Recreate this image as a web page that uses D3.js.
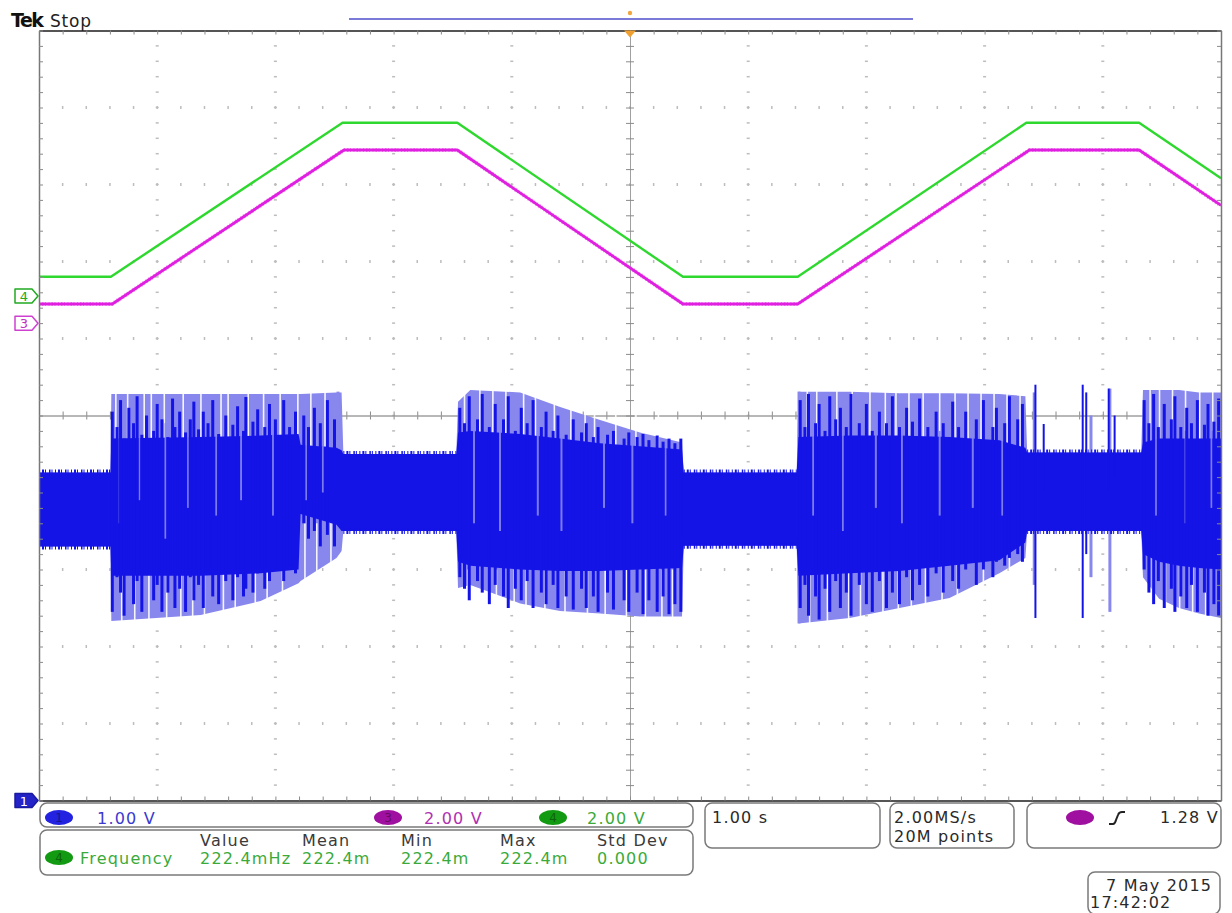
<!DOCTYPE html>
<html>
<head>
<meta charset="utf-8">
<script src="https://cdn.jsdelivr.net/npm/d3@7"></script>
<style>
  body { margin: 0; background: #fff; }
  svg { display: block; }
  text { font-family: "DejaVu Sans", sans-serif; }
</style>
</head>
<body>
<svg id="scope" width="1232" height="913"></svg>
<script>
// ---- acquisition settings ----
const timeRange = [0, 10];                 // 1.00 s/div, 10 divisions
const channelIds = ["1", "3", "4"];
const voltsPerDiv = [1, 2, 2];
const channelPos = [-5, 1.198, 1.552];     // ground position, divisions from centre

// ---- CH4 (green) and CH3 (magenta): trapezoidal ramps ----
const ch4Times = [0, 0.608, 2.568, 3.539, 5.448, 6.419, 8.353, 9.307, 10];
const ch4Volts = [0.5, 0.5, 4.5, 4.5, 0.5, 0.5, 4.5, 4.5, 3.06];
const ch3Times = [0, 0.620, 2.580, 3.539, 5.448, 6.419, 8.380, 9.307, 10];
const ch3Volts = [0.5, 0.5, 4.5, 4.5, 0.5, 0.5, 4.5, 4.5, 3.06];

// ---- CH1 (blue): envelope of the switching noise ----
const envT       = [0.000, 0.605, 0.612, 1.368, 1.875, 2.196, 2.213, 2.517, 2.560, 2.575, 3.530, 3.545, 3.649, 4.071, 4.409, 4.747, 5.084, 5.440, 5.455, 6.410, 6.425, 6.858, 7.280, 7.703, 8.125, 8.345, 8.360, 9.325, 9.340, 9.476, 9.645, 9.814, 10.00];
const envOuterHi = [4.26, 4.26, 5.28, 5.28, 5.28, 5.28, 5.28, 5.30, 5.30, 4.50, 4.50, 5.18, 5.33, 5.30, 5.11, 4.94, 4.78, 4.65, 4.26, 4.26, 5.31, 5.31, 5.29, 5.29, 5.28, 5.25, 4.52, 4.52, 5.33, 5.33, 5.33, 5.30, 5.30];
const envOuterLo = [3.30, 3.30, 2.33, 2.41, 2.59, 2.82, 2.85, 3.15, 3.24, 3.50, 3.50, 2.76, 2.80, 2.56, 2.46, 2.43, 2.39, 2.39, 3.31, 3.31, 2.30, 2.37, 2.50, 2.63, 2.95, 3.15, 3.50, 3.50, 2.90, 2.62, 2.50, 2.43, 2.37];
const envCoreHi  = [4.26, 4.26, 4.70, 4.72, 4.74, 4.76, 4.62, 4.58, 4.55, 4.50, 4.50, 4.78, 4.80, 4.76, 4.70, 4.64, 4.60, 4.56, 4.26, 4.26, 4.72, 4.74, 4.74, 4.72, 4.68, 4.58, 4.52, 4.52, 4.65, 4.70, 4.70, 4.70, 4.70];
const envCoreLo  = [3.30, 3.30, 2.92, 2.92, 2.95, 3.00, 3.72, 3.58, 3.50, 3.50, 3.50, 3.10, 3.05, 3.00, 2.98, 2.98, 3.00, 3.02, 3.31, 3.31, 2.92, 2.95, 2.98, 3.05, 3.12, 3.35, 3.50, 3.50, 3.20, 3.10, 3.05, 3.02, 3.00];
// flat stretches where only the idle noise band is present: [start s, end s]
const quietSpans = [[0, 0.605], [2.575, 3.530], [5.455, 6.410], [8.360, 9.325]];

// switching bursts: [time s, top V, bottom V]
const burstBars = [
  [0.62,5.05,2.45],[0.66,4.85,2.90],[0.69,5.20,2.70],[0.72,4.70,2.40],[0.76,5.10,3.00],[0.80,4.90,2.55],
  [0.83,5.25,2.85],[0.87,4.75,2.45],[0.91,5.00,2.95],[0.97,4.80,2.60],[1.00,5.15,2.80],[1.04,4.95,2.45],
  [1.09,4.72,2.70],[1.13,5.22,2.95],[1.15,4.85,2.50],[1.19,5.05,2.75],[1.24,4.78,2.45],[1.28,4.95,2.90],
  [1.31,5.18,2.60],[1.35,4.82,2.80],[1.39,5.05,2.50],[1.43,4.90,2.95],[1.47,5.20,2.65],[1.52,4.76,2.55],
  [1.58,5.00,2.85],[1.64,4.88,2.60],[1.68,5.12,2.90],[1.73,4.80,2.65],[1.75,5.24,2.75],[1.81,4.92,2.70],
  [1.85,5.08,2.95],[1.91,4.85,2.75],[1.95,5.15,2.85],[2.00,4.95,3.00],[2.07,5.20,2.85],[2.12,4.85,3.05],
  [2.17,5.05,2.95],[2.24,5.00,3.60],[2.28,4.85,3.40],[2.33,5.10,3.50],[2.38,4.90,3.30],[2.44,5.20,3.45],
  [2.50,4.95,3.30],
  [3.56,5.10,2.90],[3.60,4.90,2.75],[3.64,5.25,2.60],[3.71,4.95,2.85],[3.75,5.28,2.70],[3.81,4.85,2.55],
  [3.86,5.15,2.80],[3.93,4.95,2.65],[3.97,5.25,2.50],[4.03,4.80,2.75],[4.08,5.10,2.60],[4.13,4.90,2.85],
  [4.18,5.20,2.50],[4.25,4.85,2.70],[4.29,5.05,2.55],[4.35,4.80,2.80],[4.39,5.00,2.50],[4.46,4.75,2.65],
  [4.52,4.95,2.48],[4.59,4.78,2.75],[4.63,4.90,2.50],[4.69,4.72,2.65],[4.73,4.85,2.45],[4.81,4.75,2.70],
  [4.86,4.80,2.48],[4.95,4.70,2.60],[4.99,4.78,2.45],[5.06,4.72,2.70],[5.11,4.76,2.42],[5.16,4.68,2.60],
  [5.23,4.74,2.45],[5.28,4.66,2.65],[5.33,4.70,2.42],[5.38,4.64,2.55],[5.43,4.70,2.45],
  [6.44,5.20,2.50],[6.48,4.85,2.80],[6.51,5.28,2.40],[6.57,4.90,2.65],[6.60,5.15,2.35],[6.65,4.80,2.75],
  [6.69,5.25,2.45],[6.74,4.95,2.85],[6.78,5.10,2.50],[6.83,4.85,2.70],[6.87,5.28,2.40],[6.94,4.90,2.80],
  [7.00,5.15,2.55],[7.05,4.80,2.45],[7.11,5.05,2.85],[7.17,4.90,2.50],[7.22,5.25,2.70],[7.28,4.85,2.55],
  [7.34,5.10,2.90],[7.39,4.92,2.60],[7.45,5.22,2.80],[7.52,4.85,2.65],[7.59,5.05,2.95],[7.65,4.90,2.70],
  [7.73,5.18,2.85],[7.78,4.85,2.75],[7.84,5.05,3.00],[7.93,4.95,2.80],[7.99,5.20,3.00],[8.07,4.85,2.90],
  [8.10,5.10,3.10],[8.17,4.90,3.05],[8.21,5.25,3.15],[8.28,4.95,3.20],[8.32,5.15,3.10],
  [9.35,5.20,3.00],[9.39,4.90,2.70],[9.43,5.28,2.55],[9.47,4.85,2.85],[9.52,5.15,2.50],[9.58,4.95,2.75],
  [9.61,5.25,2.45],[9.66,4.85,2.65],[9.71,5.10,2.50],[9.75,4.90,2.80],[9.80,5.20,2.45],[9.86,4.88,2.70],
  [9.89,5.15,2.40],[9.94,4.92,2.55],[9.98,5.22,2.40]
];
// isolated glitches on the plateaus
const glitches = [
  [8.43,5.40,2.37],[8.50,4.89,4.00],[8.83,5.40,2.37],[8.86,5.30,3.20],[9.05,5.35,4.00],[9.10,5.00,4.20]
];
const lightSpikes = [
  [2.53,5.31,3.24],[6.43,5.31,2.30],[8.42,5.30,2.80],[8.90,5.00,2.90],[9.06,5.35,2.45]
];
// paler streaks through the dense part of the bursts
const lightStreaks = [
  [0.68,4.85,3.60],[0.85,4.80,3.90],[1.07,4.90,3.40],[1.26,4.80,3.80],[1.50,4.85,3.70],[1.71,4.80,3.90],
  [1.98,4.85,3.70],[2.26,4.70,3.90],[2.40,4.60,4.00],
  [3.68,4.85,3.60],[3.90,4.85,3.50],[4.22,4.80,3.70],[4.42,4.75,3.50],[4.78,4.65,3.80],[5.02,4.62,3.60],
  [5.30,4.58,3.70],
  [6.55,4.85,3.70],[6.80,4.85,3.50],[7.08,4.80,3.80],[7.30,4.80,3.60],[7.62,4.80,3.70],[7.90,4.75,3.80],
  [8.15,4.70,3.70],
  [9.45,4.80,3.70],[9.70,4.80,3.60],[9.92,4.80,3.80]
];
// sparse moments inside the persistence band
const gaps = [
  [0.65,5.4,3.9],[0.70,3.4,2.2],[0.75,5.4,4.2],[0.81,3.2,2.2],[0.89,5.4,4.0],[0.93,3.3,2.2],[0.95,5.4,4.3],
  [1.06,5.4,4.1],[1.08,3.2,2.2],[1.20,3.1,2.2],[1.22,5.4,4.0],[1.30,3.0,2.2],[1.37,5.4,4.3],[1.40,3.1,2.2],
  [1.54,5.4,4.2],[1.56,3.0,2.2],[1.60,5.4,4.3],[1.66,3.0,2.2],[1.77,5.4,4.2],[1.83,3.0,2.2],[1.90,5.4,4.2],
  [1.93,3.0,2.3],[2.04,5.4,4.4],[2.06,3.2,2.4],[2.19,5.4,4.4],[2.25,3.6,2.6],[2.30,5.4,4.6],[2.35,3.6,2.7],
  [2.42,5.4,4.6],[2.47,3.6,2.9],
  [3.60,5.4,4.5],[3.63,3.0,2.4],[3.73,5.4,4.4],[3.75,3.0,2.3],[3.84,5.4,4.4],[3.87,3.0,2.3],[3.95,5.4,4.3],
  [4.02,3.0,2.3],[4.10,5.4,4.3],[4.12,3.0,2.3],[4.20,5.4,4.3],[4.28,3.0,2.3],[4.36,5.4,4.4],[4.45,3.0,2.3],
  [4.50,5.4,4.4],[4.62,5.4,4.4],[4.64,3.0,2.3],[4.70,5.4,4.4],[4.79,3.0,2.3],[4.88,5.4,4.4],[4.97,3.0,2.3],
  [5.05,5.4,4.4],[5.13,3.0,2.3],[5.24,5.4,4.4],[5.27,3.0,2.3],[5.36,3.0,2.3],
  [6.50,5.4,4.3],[6.52,3.0,2.2],[6.58,5.4,4.3],[6.67,3.0,2.2],[6.75,5.4,4.3],[6.85,3.0,2.2],[6.88,5.4,4.3],
  [6.95,3.0,2.2],[7.03,5.4,4.3],[7.14,3.0,2.2],[7.16,5.4,4.3],[7.25,5.4,4.3],[7.27,3.0,2.3],[7.36,5.4,4.3],
  [7.38,3.1,2.3],[7.48,5.4,4.3],[7.50,3.1,2.4],[7.62,5.4,4.3],[7.64,3.2,2.5],[7.75,5.4,4.3],[7.77,3.2,2.5],
  [7.86,5.4,4.3],[7.97,5.4,4.3],[7.99,3.3,2.6],[8.08,5.4,4.3],[8.19,5.4,4.3],[8.21,3.4,2.8],[8.30,5.4,4.3],
  [9.40,5.4,4.4],[9.42,3.2,2.4],[9.48,5.4,4.4],[9.53,3.2,2.3],[9.59,5.4,4.4],[9.65,3.2,2.3],[9.70,5.4,4.4],
  [9.76,3.2,2.3],[9.82,5.4,4.4],[9.87,3.2,2.3],[9.93,5.4,4.4]
];

// ---- readouts ----
const scaleLabels = ["1.00 V", "2.00 V", "2.00 V"];
const measHeaders = ["Value", "Mean", "Min", "Max", "Std Dev"];
const measValues = ["222.4mHz", "222.4m", "222.4m", "222.4m", "0.000"];
const measName = "Frequency";
const timebaseLabel = "1.00 s";
const acqLabels = ["2.00MS/s", "20M points"];
const triggerLabel = "1.28 V";
const dateLabels = ["7 May 2015", "17:42:02"];

// ---- layout ----
const svg = d3.select("#scope");
const P = { l: 39, r: 1221, t: 30.5, b: 800.5 };
const HDIV = 10, VDIV = 10;
const cx = (P.l + P.r) / 2, cy = (P.t + P.b) / 2;
const x = d3.scaleLinear().domain(timeRange).range([P.l, P.r]);
function yScale(ch) {
  const i = channelIds.indexOf(ch);
  const pos = channelPos[i], vd = voltsPerDiv[i];
  return d3.scaleLinear().domain([(-VDIV / 2 - pos) * vd, (VDIV / 2 - pos) * vd]).range([P.b, P.t]);
}
const y1 = yScale("1"), y3 = yScale("3"), y4 = yScale("4");
const COL = { blue: "#1414e6", blueLight: "#8787ee", magenta: "#e020e0", green: "#2fd82f" };

// ---- graticule ----
const gx = d3.scaleLinear().domain([0, HDIV]).range([P.l, P.r]);
const gy = d3.scaleLinear().domain([0, VDIV]).range([P.t, P.b]);
const minorX = d3.range(0, HDIV * 5 + 1).map(i => i / 5);
const minorY = d3.range(0, VDIV * 5 + 1).map(i => i / 5);
const grid = svg.append("g");
const majorX = d3.range(1, HDIV).filter(k => k !== HDIV / 2);
const majorY = d3.range(1, VDIV).filter(k => k !== VDIV / 2);
majorX.forEach(k => {
  grid.selectAll(null).data(minorY.slice(1, -1)).enter().append("rect")
    .attr("x", gx(k) - 1.5).attr("y", d => gy(d) - 0.75).attr("width", 3).attr("height", 1.5)
    .attr("fill", "#bdbdbd");
});
majorY.forEach(k => {
  grid.selectAll(null).data(minorX.slice(1, -1)).enter().append("rect")
    .attr("x", d => gx(d) - 0.75).attr("y", gy(k) - 1.5).attr("width", 1.5).attr("height", 3)
    .attr("fill", "#bdbdbd");
});
function styleAxis(g, col, w) {
  g.selectAll("path").attr("stroke", col).attr("stroke-width", w);
  g.selectAll("line").attr("stroke", "#8a8a8a").attr("stroke-width", 1);
  g.selectAll("text").remove();
}
// centre cross-hair
[d3.axisBottom, d3.axisTop].forEach(ax => {
  svg.append("g").attr("transform", `translate(0,${cy})`)
    .call(ax(gx).tickValues(minorX).tickSize(4).tickSizeOuter(0).tickFormat(""))
    .call(g => styleAxis(g, "#a0a0a0", 1));
});
[d3.axisLeft, d3.axisRight].forEach(ax => {
  svg.append("g").attr("transform", `translate(${cx},0)`)
    .call(ax(gy).tickValues(minorY).tickSize(4).tickSizeOuter(0).tickFormat(""))
    .call(g => styleAxis(g, "#a0a0a0", 1));
});

// ---- CH1 trace ----
svg.append("clipPath").attr("id", "plotClip").append("rect")
  .attr("x", P.l).attr("y", P.t).attr("width", P.r - P.l).attr("height", P.b - P.t);
const ch1 = svg.append("g").attr("clip-path", "url(#plotClip)");
const env = envT.map((t, i) => ({ t, oh: envOuterHi[i], ol: envOuterLo[i], ch: envCoreHi[i], cl: envCoreLo[i] }));
const vbars = (g, data, col, w, op) => g.selectAll(null).data(data).enter().append("line")
  .attr("x1", d => x(d[0])).attr("x2", d => x(d[0])).attr("y1", d => y1(d[1])).attr("y2", d => y1(d[2]))
  .attr("stroke", col).attr("stroke-width", w).attr("opacity", op);

ch1.append("path").datum(env)
  .attr("d", d3.area().x(d => x(d.t)).y0(d => y1(d.ol)).y1(d => y1(d.oh)))
  .attr("fill", COL.blueLight);
vbars(ch1, lightSpikes, COL.blueLight, 3, 1);
vbars(ch1, gaps, "#ffffff", 1.6, 0.92);
ch1.append("path").datum(env)
  .attr("d", d3.area().x(d => x(d.t)).y0(d => y1(d.cl)).y1(d => y1(d.ch)))
  .attr("fill", COL.blue);
// ragged edges of the idle noise band
quietSpans.forEach(([t0, t1]) => {
  const e = env.find(d => d.t >= t0);
  [e.ch, e.cl].forEach(v => {
    ch1.append("line").attr("x1", x(t0)).attr("x2", x(t1)).attr("y1", y1(v)).attr("y2", y1(v))
      .attr("stroke", COL.blue).attr("stroke-width", 6).attr("stroke-dasharray", "1 2 2 1 1 3 1.5 1 1 2.5");
  });
});
vbars(ch1, lightStreaks, COL.blueLight, 2, 0.9);
vbars(ch1, burstBars, COL.blue, 3, 1);
vbars(ch1, glitches, COL.blue, 2, 1);

// ---- CH3 / CH4 traces ----
const rampLine = ys => d3.line().x(d => x(d[0])).y(d => ys(d[1]));
const ch3Data = ch3Times.map((t, i) => [t, ch3Volts[i]]);
svg.append("path").datum(ch3Data)
  .attr("d", rampLine(y3)).attr("fill", "none").attr("stroke", COL.magenta)
  .attr("stroke-width", 2.8).attr("stroke-linejoin", "round");
svg.append("path").datum(ch3Data)
  .attr("d", rampLine(y3)).attr("fill", "none").attr("stroke", COL.magenta)
  .attr("stroke-width", 4.2).attr("stroke-dasharray", "1 2 1.5 1.5 1 2.5").attr("opacity", 0.45);
svg.append("path").datum(ch4Times.map((t, i) => [t, ch4Volts[i]]))
  .attr("d", rampLine(y4)).attr("fill", "none").attr("stroke", COL.green)
  .attr("stroke-width", 2.4).attr("stroke-linejoin", "round");

// ---- graticule frame ----
svg.append("g").attr("transform", `translate(0,${P.t})`)
  .call(d3.axisBottom(gx).tickValues(minorX).tickSize(4).tickSizeOuter(0).tickFormat(""))
  .call(g => styleAxis(g, "#555", 2));
svg.append("g").attr("transform", `translate(0,${P.b})`)
  .call(d3.axisTop(gx).tickValues(minorX).tickSize(4).tickSizeOuter(0).tickFormat(""))
  .call(g => styleAxis(g, "#555", 2));
svg.append("g").attr("transform", `translate(${P.l},0)`)
  .call(d3.axisRight(gy).tickValues(minorY).tickSize(4).tickSizeOuter(0).tickFormat(""))
  .call(g => styleAxis(g, "#777", 1.5));
svg.append("g").attr("transform", `translate(${P.r},0)`)
  .call(d3.axisLeft(gy).tickValues(minorY).tickSize(4).tickSizeOuter(0).tickFormat(""))
  .call(g => styleAxis(g, "#777", 1.5));

// ---- header ----
svg.append("text").attr("x", 11).attr("y", 27).attr("font-size", 19).attr("font-weight", "bold")
  .attr("font-family", "Liberation Serif, serif").attr("letter-spacing", -1.5).attr("fill", "#111").text("Tek");
svg.append("text").attr("x", 50).attr("y", 27).attr("font-size", 17).attr("letter-spacing", 0.8)
  .attr("fill", "#222").text("Stop");
svg.append("line").attr("x1", 349).attr("x2", 913).attr("y1", 19).attr("y2", 19)
  .attr("stroke", "#7a7ad8").attr("stroke-width", 2);
svg.append("circle").attr("cx", cx).attr("cy", 13).attr("r", 2.2).attr("fill", "#f2a640");
svg.append("path").attr("d", `M${cx - 6},${P.t} L${cx + 6},${P.t} L${cx},${P.t + 7} Z`).attr("fill", "#f0a030");

// ---- channel ground markers ----
function tag(yv, label, stroke, fill, txt) {
  const g = svg.append("g");
  g.append("path")
    .attr("d", `M15,${yv - 7} H32 L38,${yv} L32,${yv + 7} H15 Z`)
    .attr("fill", fill).attr("stroke", stroke).attr("stroke-width", 1.5).attr("stroke-linejoin", "round");
  g.append("text").attr("x", 24).attr("y", yv + 5).attr("text-anchor", "middle")
    .attr("font-size", 13).attr("fill", txt).text(label);
}
tag(y4(0), "4", "#22aa22", "#ffffff", "#22aa22");
tag(y3(0), "3", "#d040d0", "#ffffff", "#c030c0");
tag(Math.min(y1(0), P.b), "1", "#1a1aa0", "#2323c8", "#ffffff");

// ---- readout panels ----
const panel = (x0, y0, w, h) => svg.append("rect").attr("x", x0).attr("y", y0).attr("width", w).attr("height", h)
  .attr("rx", 7).attr("fill", "#fff").attr("stroke", "#7a7a7a").attr("stroke-width", 1.5);
panel(40, 803, 653, 24);
panel(40, 830, 653, 45);
panel(705, 803, 175, 45);
panel(890, 803, 124, 45);
panel(1027, 803, 194, 45);
panel(1088, 872, 132, 42);

const txt = (x0, y0, s, col) => svg.append("text").attr("x", x0).attr("y", y0).attr("font-size", 16)
  .attr("letter-spacing", 1.2).attr("fill", col).text(s);
const badge = (x0, y0, col, label) => {
  svg.append("ellipse").attr("cx", x0).attr("cy", y0).attr("rx", 14).attr("ry", 7.5).attr("fill", col);
  svg.append("text").attr("x", x0).attr("y", y0 + 4.5).attr("text-anchor", "middle").attr("font-size", 12)
    .attr("fill", d3.color(col).darker(1.2)).text(label);
};
badge(59, 817.5, "#2222e0", "1");
txt(97, 824, scaleLabels[0], "#3a3ad0");
badge(388, 817.5, "#a010a0", "3");
txt(424, 824, scaleLabels[1], "#b030b0");
badge(553, 817.5, "#139a13", "4");
txt(587, 824, scaleLabels[2], "#3aaa3a");

const colX = [200, 302, 401, 500, 597];
measHeaders.forEach((h, i) => txt(colX[i], 846, h, "#3a3a3a"));
badge(59, 857.5, "#139a13", "4");
txt(80, 864, measName, "#3aaa3a");
measValues.forEach((v, i) => txt(colX[i], 864, v, "#3aaa3a"));

txt(712, 823, timebaseLabel, "#2a2a2a");
txt(894, 823, acqLabels[0], "#2a2a2a");
txt(894, 842, acqLabels[1], "#2a2a2a");
svg.append("ellipse").attr("cx", 1080).attr("cy", 817.5).attr("rx", 14).attr("ry", 7.5).attr("fill", "#a010a0");
svg.append("path").attr("d", "M1109,824 L1113,824 Q1115,824 1116,820 L1118,815 Q1119,812 1122,812 L1125,812")
  .attr("fill", "none").attr("stroke", "#222").attr("stroke-width", 2);
txt(1160, 823, triggerLabel, "#2a2a2a");
txt(1106, 891, dateLabels[0], "#2a2a2a");
txt(1090, 908, dateLabels[1], "#2a2a2a");
</script>
</body>
</html>
